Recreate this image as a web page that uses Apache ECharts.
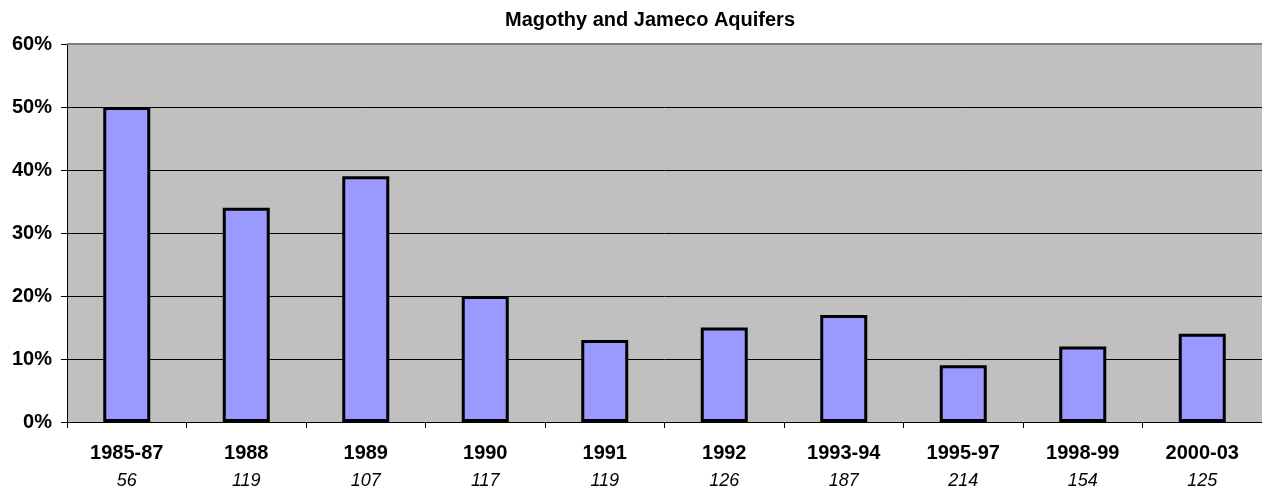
<!DOCTYPE html>
<html>
<head>
<meta charset="utf-8">
<script src="https://cdn.jsdelivr.net/npm/echarts@6/dist/echarts.min.js"></script>
<style>
    html, body { margin: 0; padding: 0; background: #fff; }
    #main { width: 1262px; height: 491px; }
</style>
</head>
<body>
<div id="main"></div>
<script>
// 数据
var categories = ['1985-87', '1988', '1989', '1990', '1991', '1992', '1993-94', '1995-97', '1998-99', '2000-03'];
var percents = [50, 34, 39, 20, 13, 15, 17, 9, 12, 14];
var counts = [56, 119, 107, 117, 119, 126, 187, 214, 154, 125];
var yTicks = [0, 10, 20, 30, 40, 50, 60];

var FONT = 'Arial, "Liberation Sans", sans-serif';

var chart = echarts.init(document.getElementById('main'));
var option = {
    animation: false,
    title: {
        text: 'Magothy and Jameco Aquifers',
        left: 645,
        top: 5,
        textAlign: 'center',
        textStyle: {
            fontFamily: FONT,
            fontSize: 20,
            fontWeight: 'bold',
            color: '#000'
        }
    },
    grid: {
        left: 67,
        right: 0,
        top: 44,
        bottom: 69,
        show: true,
        backgroundColor: '#C0C0C0',
        borderWidth: 0
    },
    xAxis: {
        type: 'category',
        data: categories,
        axisLine: { lineStyle: { color: '#000', width: 1 } },
        axisTick: { show: true, length: 6, lineStyle: { color: '#000' } },
        axisLabel: {
            margin: 18,
            interval: 0,
            formatter: function (value, idx) {
                return '{a|' + value + '}\n{b|' + counts[idx] + '}';
            },
            rich: {
                a: { fontFamily: FONT, fontSize: 20, fontWeight: 'bold', color: '#000', lineHeight: 27 },
                b: { fontFamily: FONT, fontSize: 18, fontStyle: 'italic', color: '#000', lineHeight: 27 }
            }
        }
    },
    yAxis: {
        type: 'value',
        min: yTicks[0],
        max: yTicks[yTicks.length - 1],
        interval: 10,
        axisLine: { show: true, lineStyle: { color: '#000', width: 1 } },
        axisTick: { show: true, length: 6, lineStyle: { color: '#000' } },
        splitLine: { show: true, lineStyle: { color: '#000', width: 1 } },
        axisLabel: {
            margin: 15,
            formatter: '{value}%',
            fontFamily: FONT,
            fontSize: 20,
            fontWeight: 'bold',
            color: '#000'
        }
    },
    series: [
        {
            type: 'bar',
            data: percents,
            barWidth: 47,
            itemStyle: {
                color: '#9999FF',
                borderColor: '#000',
                borderWidth: 3
            },
            markLine: {
                silent: true,
                symbol: 'none',
                label: { show: false },
                lineStyle: { color: '#808080', width: 2, type: 'solid' },
                data: [{ yAxis: yTicks[yTicks.length - 1] }]
            }
        }
    ]
};
chart.setOption(option);
</script>
</body>
</html>
